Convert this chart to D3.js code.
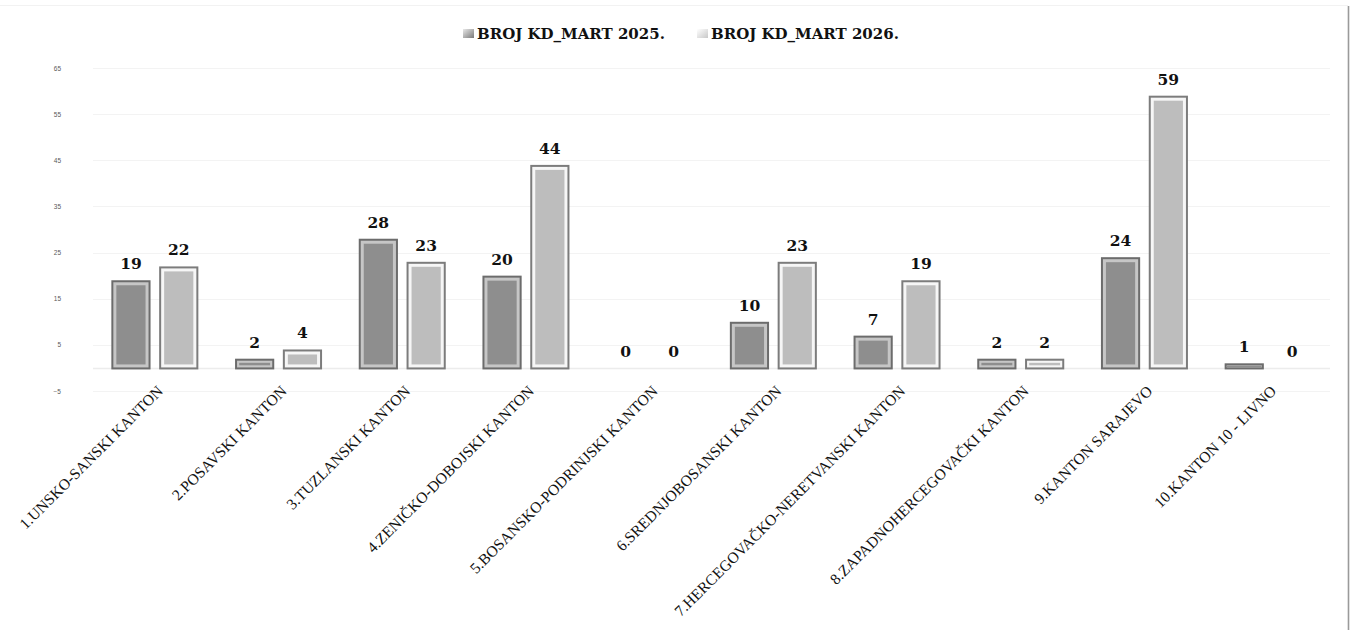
<!DOCTYPE html>
<html><head><meta charset="utf-8">
<script src="https://cdn.jsdelivr.net/npm/d3@7"></script>
<style>html,body{margin:0;padding:0;background:#fff;}svg{display:block;}</style>
</head><body>
<svg id="chart" width="1350" height="630"></svg>
<script>
const categories = ["1.UNSKO-SANSKI KANTON","2.POSAVSKI KANTON","3.TUZLANSKI KANTON","4.ZENIČKO-DOBOJSKI KANTON","5.BOSANSKO-PODRINJSKI KANTON","6.SREDNJOBOSANSKI KANTON","7.HERCEGOVAČKO-NERETVANSKI KANTON","8.ZAPADNOHERCEGOVAČKI KANTON","9.KANTON SARAJEVO","10.KANTON 10 - LIVNO"];
const seriesNames = ["BROJ KD_MART 2025.","BROJ KD_MART 2026."];
const values2025 = [19,2,28,20,0,10,7,2,24,1];
const values2026 = [22,4,23,44,0,23,19,2,59,0];
const yTicks = [-5,5,15,25,35,45,55,65];

const svg = d3.select("#chart");
const serif = "'DejaVu Serif', 'Liberation Serif', serif";

// background border lines
svg.append("line").attr("x1",0).attr("x2",1348).attr("y1",5.5).attr("y2",5.5).attr("stroke","#f2f2f2");
svg.append("line").attr("x1",1348.5).attr("x2",1348.5).attr("y1",6).attr("y2",630).attr("stroke","#9a9a9a").attr("stroke-width",1.6);

const x = d3.scaleBand().domain(categories).range([93,1330]).padding(0);
const groupW = 87;
const xs = d3.scaleBand().domain(seriesNames).range([0,groupW]).paddingInner(0.18);
const y = d3.scaleLinear().domain([-5,65]).range([391,68]);

// gridlines
svg.append("g").selectAll("line").data(yTicks).join("line")
  .attr("x1",93).attr("x2",1330)
  .attr("y1",d=>Math.round(y(d))+0.5).attr("y2",d=>Math.round(y(d))+0.5)
  .attr("stroke","#f3f3f3").attr("stroke-width",1);
// zero line
svg.append("line").attr("x1",93).attr("x2",1330).attr("y1",y(0)+0.5).attr("y2",y(0)+0.5)
  .attr("stroke","#ececec").attr("stroke-width",1.5);

// y axis tick labels
const yAxis = d3.axisLeft(y).tickValues(yTicks).tickSize(0).tickPadding(0);
const yg = svg.append("g").attr("transform","translate(61,0)").call(yAxis);
yg.select(".domain").remove();
yg.selectAll("text").attr("font-family","'Liberation Sans', Arial, sans-serif").attr("font-size",6.5).attr("fill","#595959");

const styles = [
  {outer:"#6c6c6c", ring:"#c6c6c6", fill:"#8e8e8e"},
  {outer:"#7c7c7c", ring:"#f6f6f6", fill:"#bdbdbd"}
];
const data = [];
categories.forEach((c,i)=>{
  data.push({cat:c, s:seriesNames[0], v:values2025[i], st:styles[0]});
  data.push({cat:c, s:seriesNames[1], v:values2026[i], st:styles[1]});
});
const off = (x.bandwidth()-groupW)/2;
const bars = svg.append("g").selectAll("g").data(data.filter(d=>d.v>0)).join("g")
  .attr("transform",d=>`translate(${x(d.cat)+off+xs(d.s)},${y(d.v)})`);
bars.each(function(d){
  const g = d3.select(this);
  const w = xs.bandwidth(), h = y(0)-y(d.v)+1.5;
  g.append("rect").attr("x",0).attr("y",0).attr("width",w).attr("height",h).attr("fill",d.st.outer);
  const i1 = Math.min(2, h/3);
  g.append("rect").attr("x",i1).attr("y",i1).attr("width",w-2*i1).attr("height",Math.max(0,h-2*i1)).attr("fill",d.st.ring);
  const i2 = Math.min(5, h/2.6);
  g.append("rect").attr("x",i2).attr("y",i2).attr("width",w-2*i2).attr("height",Math.max(0,h-2*i2)).attr("fill",d.st.fill);
});

// value labels
svg.append("g").selectAll("text").data(data).join("text")
  .attr("x",d=>x(d.cat)+off+xs(d.s)+xs.bandwidth()/2)
  .attr("y",d=>y(d.v)-11)
  .attr("text-anchor","middle")
  .attr("font-family",serif).attr("font-weight","bold").attr("font-size",15.5).attr("fill","#111")
  .text(d=>d.v);

// category labels
svg.append("g").selectAll("text").data(categories).join("text")
  .attr("transform",d=>`translate(${x(d)+x.bandwidth()/2+9},${392}) rotate(-45)`)
  .attr("text-anchor","end")
  .attr("font-family","'Liberation Serif', serif").attr("font-size",15.5).attr("fill","#111")
  .text(d=>d);

// legend
const defs = svg.append("defs");
const g1 = defs.append("linearGradient").attr("id","lg1").attr("x1","0").attr("y1","0").attr("x2","1").attr("y2","1");
g1.append("stop").attr("offset","0").attr("stop-color","#e8e8e8");
g1.append("stop").attr("offset","1").attr("stop-color","#7a7a7a");
const g2 = defs.append("linearGradient").attr("id","lg2").attr("x1","0").attr("y1","0").attr("x2","1").attr("y2","1");
g2.append("stop").attr("offset","0").attr("stop-color","#ffffff");
g2.append("stop").attr("offset","1").attr("stop-color","#c8c8c8");
const legendX = [463, 697];
const lg = svg.append("g").selectAll("g").data(seriesNames).join("g")
  .attr("transform",(d,i)=>`translate(${legendX[i]},0)`);
lg.append("rect").attr("x",0).attr("y",29).attr("width",11).attr("height",9)
  .attr("fill",(d,i)=>i===0?"url(#lg1)":"url(#lg2)");
lg.append("text").attr("x",14).attr("y",38.5)
  .attr("font-family",serif).attr("font-weight","bold").attr("font-size",15).attr("fill","#111")
  .text(d=>d);
</script>
</body></html>
